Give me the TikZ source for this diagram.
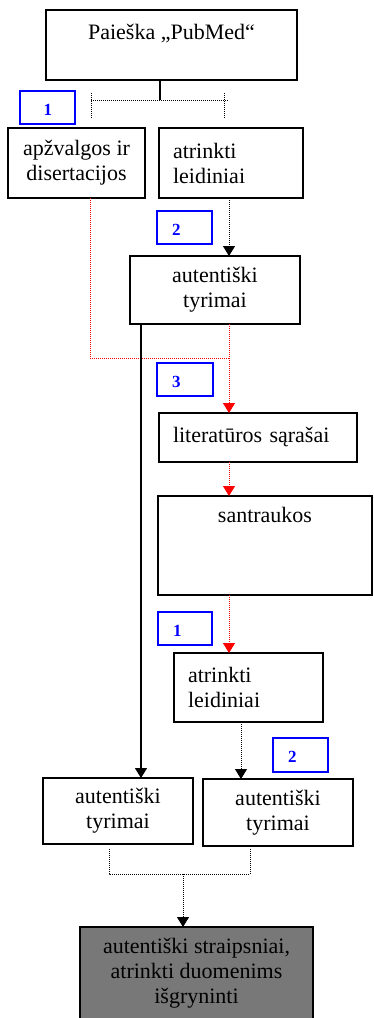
\documentclass[tikz,border=0pt]{standalone}
\usepackage{fontspec}
\setmainfont{Liberation Serif}
\usetikzlibrary{arrows.meta,calc}
\definecolor{resultgray}{HTML}{787878}
\begin{document}
\begin{tikzpicture}[x=1pt,y=-1pt,
  box/.style={draw, line width=1.3pt, fill=white, inner sep=0pt, outer sep=0pt,
    font=\fontsize{22}{25}\selectfont, align=center},
  leftbox/.style={box, align=left, inner xsep=14pt},
  numtag/.style={draw=blue, line width=1.2pt, inner ysep=0pt, outer sep=0pt,
    font=\fontsize{17}{20}\selectfont\bfseries, text=blue, align=left,
    inner xsep=15pt, text width=25pt, minimum height=33pt,
    text height=15.5pt, text depth=0pt},
  solidline/.style={line width=1.5pt},
  dotline/.style={line width=1pt, dash pattern=on 1pt off 1pt},
  reddotline/.style={dotline, draw=red},
  arr/.style={-{Triangle[width=12pt,length=10pt]}},
]
\useasboundingbox (0,0) rectangle (373,1018);

% boxes
\node[box, line width=2.6pt, minimum width=251pt, inner ysep=14pt,
      text height=15.5pt, text depth=26.5pt] (top) at (171.5,45) {Paieška „PubMed“};
\node[numtag, inner xsep=23.5pt, text width=8pt] (t1) at (47.5,107.5) {1};
\node[box, minimum width=137pt, minimum height=70pt] (apz) at (76.5,163) {apžvalgos ir\\disertacijos};
\node[leftbox, text width=116pt, minimum height=70pt] (atr1) at (231,163) {atrinkti\\leidiniai};
\node[numtag] (t2) at (184.5,227.5) {2};
\node[box, minimum width=170pt, minimum height=68pt] (aut1) at (215,290) {autentiški\\tyrimai};
\node[numtag, text width=26pt] (t3) at (185,379.5) {3};
\node[leftbox, text width=170pt, minimum height=49pt] (lit) at (258,437.5) {literatūros sąrašai};
\node[box, minimum width=214pt, inner ysep=11pt,
      text height=15.5pt, text depth=61.5pt] (san) at (265,545.5) {santraukos};
\node[numtag, text width=24pt] (t1b) at (185,628.5) {1};
\node[leftbox, text width=121pt, minimum height=69pt] (atr2) at (248.5,687.5) {atrinkti\\leidiniai};
\node[numtag, minimum height=34pt] (t2b) at (300.5,755) {2};
\node[box, minimum width=150pt, minimum height=66pt] (autL) at (118,811) {autentiški\\tyrimai};
\node[box, minimum width=150pt, minimum height=67pt] (autR) at (278,812.5) {autentiški\\tyrimai};
\node[box, fill=resultgray, anchor=north, minimum width=233pt, minimum height=92pt]
      (res) at (196.5,927) {autentiški straipsniai,\\atrinkti duomenims\\išgryninti};

% helper points
\coordinate (fk) at (160,100);
\coordinate (fkL) at (91,100);
\coordinate (fkR) at (228,100);
\coordinate (tkL1) at (91,93);
\coordinate (tkL2) at (91,118);
\coordinate (tkR1) at (224,93);
\coordinate (tkR2) at (224,118);
\coordinate (col) at (229,0);
\coordinate (rc) at (90,358);
\coordinate (lc) at (141,0);
\coordinate (rc2) at (241,0);
\coordinate (mL) at (109,849);
\coordinate (mL2) at (109,874);
\coordinate (mR2) at (250,874);
\coordinate (mR) at (250,849);
\coordinate (mC) at (183,874);

% split below the search box
\draw[solidline] (top.south -| fk) -- (fk);
\draw[dotline] (fkL) -- (fkR);
\draw[dotline] (tkL1) -- (tkL2);
\draw[dotline] (tkR1) -- (tkR2);

% flow
\draw[dotline, arr] (atr1.south -| col) -- (aut1.north -| col);
\draw[reddotline] (apz.south -| rc) -- (rc) -- (rc -| col);
\draw[reddotline, arr] (aut1.south -| col) -- (lit.north -| col);
\draw[reddotline, arr] (lit.south -| col) -- (san.north -| col);
\draw[reddotline, arr] (san.south -| col) -- (atr2.north -| col);
\draw[solidline, arr] (aut1.south -| lc) -- (autL.north -| lc);
\draw[dotline, arr] (atr2.south -| rc2) -- (autR.north -| rc2);

% merge into the result
\draw[dotline] (mL) -- (mL2) -- (mR2) -- (mR);
\draw[dotline, arr] (mC) -- (res.north -| mC);
\end{tikzpicture}
\end{document}
